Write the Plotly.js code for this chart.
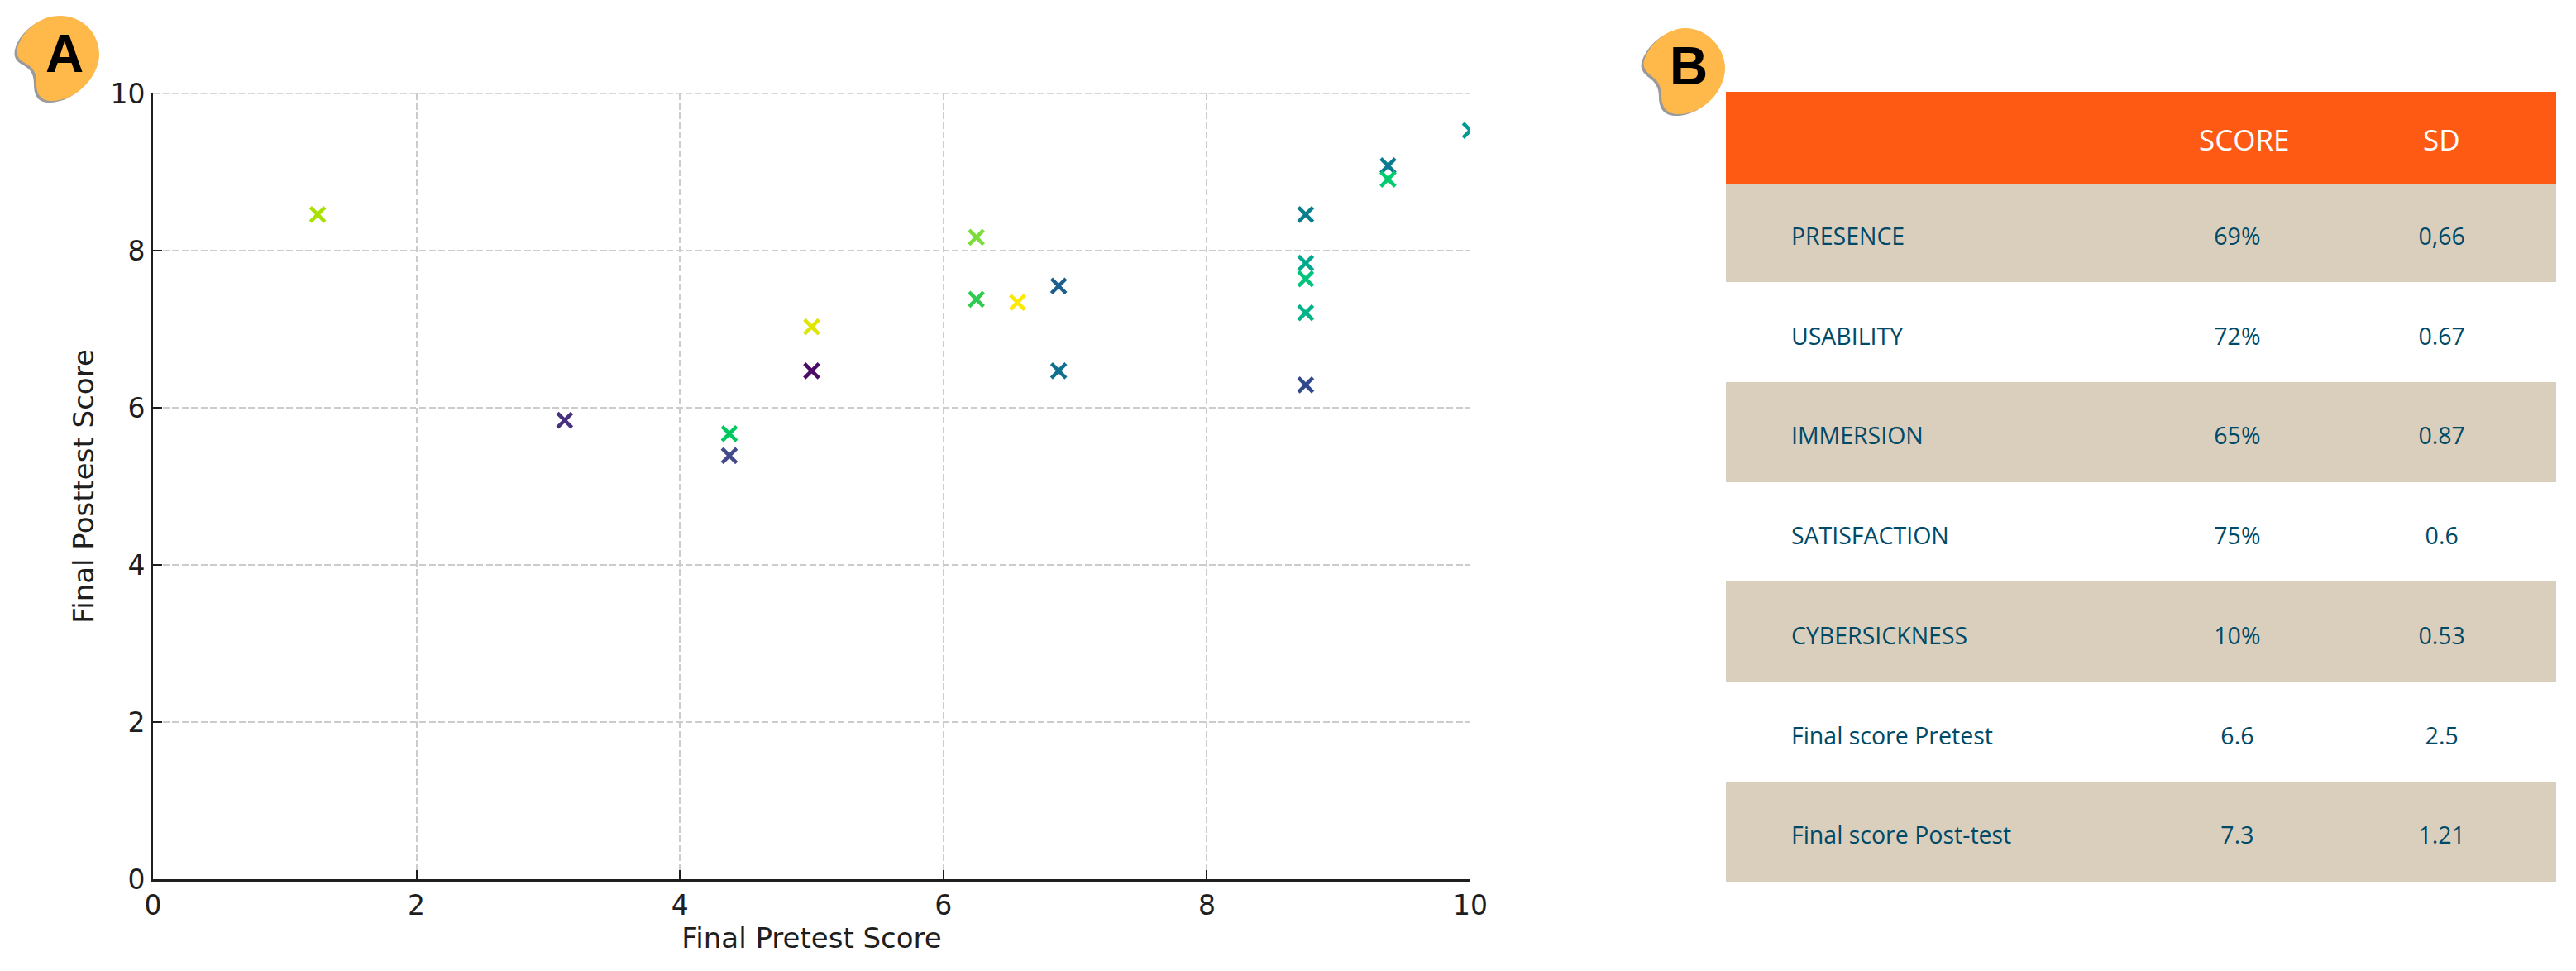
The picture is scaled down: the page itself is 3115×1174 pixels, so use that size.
<!DOCTYPE html>
<html>
<head>
<meta charset="utf-8">
<script src="https://cdn.plot.ly/plotly-3.0.1.min.js"></script>
<style>html,body{margin:0;padding:0;background:#fff}#chart{width:3115px;height:1174px}</style>
</head>
<body>
<div id="chart"></div>
<script>
// Panel A data
const pretest  = [5, 3.125, 4.375, 8.75, 6.875, 6.875, 8.75, 9.375, 10, 8.75, 8.75, 9.375, 8.75, 4.375, 6.25, 6.25, 1.25, 5, 6.5625];
const posttest = [6.47, 5.84, 5.39, 6.29, 7.55, 6.47, 8.46, 9.08, 9.53, 7.84, 7.21, 8.91, 7.64, 5.67, 7.38, 8.17, 8.46, 7.03, 7.34];
const pointColors = ['#4a0a66','#49307f','#424a8c','#31498d','#1c5f8e','#0f6f8e','#0b7f8c','#0b7c90','#009b92','#00a88e','#00b488','#00cc6e','#00c47c','#00c85e','#2ecb50','#7bdc3a','#a8e000','#dfe600','#fde800'];
const xTicks = [0, 2, 4, 6, 8, 10];
const yTicks = [0, 2, 4, 6, 8, 10];

// Panel B data
const rowLabels = ['PRESENCE','USABILITY','IMMERSION','SATISFACTION','CYBERSICKNESS','Final score Pretest','Final score Post-test'];
const scoreValues = ['69%','72%','65%','75%','10%','6.6','7.3'];
const sdValues = ['0,66','0.67','0.87','0.6','0.53','2.5','1.21'];
const headerLabels = ['SCORE', 'SD'];

const W = 3115, H = 1174;
const px = v => v / W, py = v => 1 - v / H;
const blank = rowLabels.map(() => '');
const br = a => a.map(t => t ? '\u00a0<br>' + t : t);

function blobPath(pts, dx, dy) {
  let out = 'M ' + px(pts[0][0] + dx) + ' ' + py(pts[0][1] + dy);
  for (let i = 1; i < pts.length; i += 3) {
    out += ' C ' + [0,1,2].map(k => px(pts[i+k][0] + dx) + ' ' + py(pts[i+k][1] + dy)).join(' ');
  }
  return out + ' Z';
}
const blobA = [[72,19],[100,19],[120,40],[120,66],[120,90],[95,122],[62,122],[48,122],[44,112],[44,100],[44,85],[38,80],[28,75],[20,70],[18,62],[24,50],[32,34],[50,19],[72,19]];
const blobB = [[2038,34],[2066,34],[2086,60],[2086,82],[2086,110],[2060,138],[2030,138],[2014,138],[2009,128],[2009,115],[2009,103],[2004,97],[1996,91],[1988,85],[1985,78],[1990,68],[1998,50],[2018,34],[2038,34]];
const blobShape = (p, dx, dy, color) => ({type:'path', xref:'paper', yref:'paper', path:blobPath(p,dx,dy), fillcolor:color, line:{width:0}, layer:'above'});
const dash = '8px,3.5px';
const edgeGrid = (x0,y0,x1,y1) => ({type:'line', xref:'x', yref:'y', x0,y0,x1,y1, line:{color:'#CCCCCC', width:1.5, dash}, layer:'below'});

const scatter = {
  type:'scatter', mode:'markers', x:pretest, y:posttest, xaxis:'x', yaxis:'y',
  marker:{symbol:'x-thin', size:17.5, line:{width:4.5, color:pointColors}},
  hoverinfo:'x+y', showlegend:false
};

const rowFill = rowLabels.map((_, i) => i % 2 === 0 ? '#DACFBD' : '#FFFFFF');
const table = {
  type:'table',
  domain:{x:[px(2087), px(3091)], y:[py(1074), py(111)]},
  columnwidth:[71, 438, 220, 275],
  header:{
    values:[[''],[''],[''],['']],
    height:110,
    align:'center',
    fill:{color:'#FF5A14'},
    line:{width:1, color:'#FF5A14'},
    font:{family:'Open Sans', size:35, color:'#FFFFFF'}
  },
  cells:{
    values:[blank, br(rowLabels), br(scoreValues), br(sdValues)],
    height:120.7,
    align:['left','left','center','center'],
    fill:{color:[rowFill, rowFill, rowFill, rowFill]},
    line:{width:1, color:[rowFill, rowFill, rowFill, rowFill]},
    font:{family:'Open Sans', size:28.5, color:'#004A68'}
  }
};

const axisCommon = {
  range:[0,10], showgrid:true, gridcolor:'#CCCCCC', griddash:dash, gridwidth:1.5,
  zeroline:false, showline:true, linecolor:'#1E1E1E', linewidth:3,
  ticks:'inside', ticklen:11, tickwidth:1.5, tickcolor:'#1E1E1E',
  tickfont:{family:'DejaVu Sans', size:33, color:'#1E1E1E'},
  tickmode:'array', automargin:false
};
const titleFont = {family:'DejaVu Sans', size:34, color:'#1E1E1E'};

const headerAnn = (text, xPixel) => ({text, xref:'paper', yref:'paper', x:px(xPixel), y:py(168), xanchor:'center', yanchor:'middle', showarrow:false, font:{family:'Open Sans', size:35, color:'#FFFFFF'}});

const layout = {
  width:W, height:H, margin:{l:0,r:0,t:0,b:0,pad:0},
  paper_bgcolor:'#FFFFFF', plot_bgcolor:'#FFFFFF', showlegend:false,
  xaxis:Object.assign({}, axisCommon, {
    domain:[px(185), px(1778)], anchor:'y', tickvals:xTicks,
    title:{text:'Final Pretest Score', standoff:10, font:titleFont}
  }),
  yaxis:Object.assign({}, axisCommon, {
    domain:[py(1063), py(113)], anchor:'x', tickvals:yTicks,
    title:{text:'Final Posttest Score', standoff:10, font:titleFont}
  }),
  shapes:[
    edgeGrid(0,10,10,10), edgeGrid(10,0,10,10),
    blobShape(blobA, -3, 2, '#9A9A9A'), blobShape(blobA, 0, 0, '#FFB84A'),
    blobShape(blobB, -3, 2, '#9A9A9A'), blobShape(blobB, 0, 0, '#FFB84A')
  ],
  annotations:[
    {text:'<b>A</b>', xref:'paper', yref:'paper', x:px(78), y:py(65), xanchor:'center', yanchor:'middle', showarrow:false, font:{family:'Liberation Sans', size:64, color:'#000'}},
    {text:'<b>B</b>', xref:'paper', yref:'paper', x:px(2042), y:py(80), xanchor:'center', yanchor:'middle', showarrow:false, font:{family:'Liberation Sans', size:64, color:'#000'}},
    headerAnn(headerLabels[0], 2714), headerAnn(headerLabels[1], 2952)
  ]
};
Plotly.newPlot('chart', [table, scatter], layout, {displayModeBar:false, responsive:false});
</script>
</body>
</html>
